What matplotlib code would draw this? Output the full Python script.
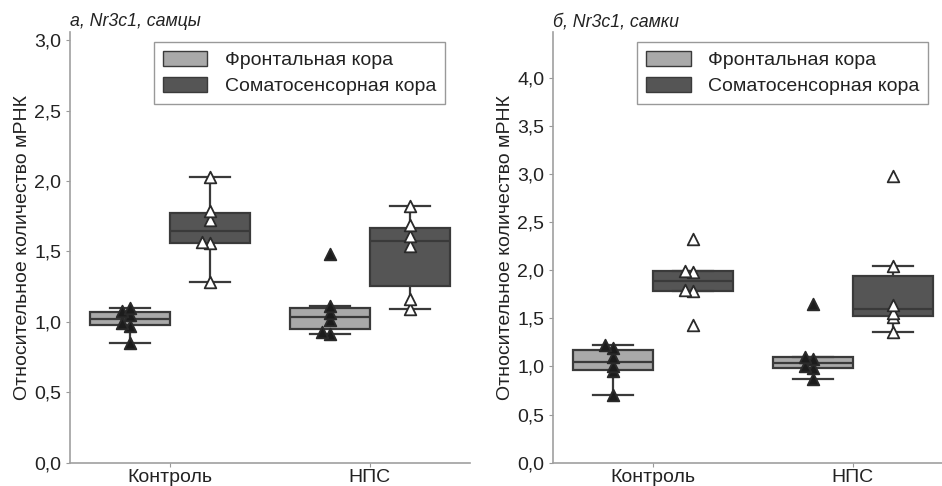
import matplotlib
matplotlib.use('Agg')
import matplotlib.pyplot as plt
from matplotlib.patches import Patch
from matplotlib.ticker import FuncFormatter
import pandas as pd
import seaborn as sns

plt.rcParams['font.family'] = ['Liberation Sans', 'DejaVu Sans']

groups = ['Контроль', 'НПС']
regions = ['Фронтальная кора', 'Соматосенсорная кора']

# а, самцы
m_ctrl_front = [0.85, 0.97, 0.99, 1.05, 1.08, 1.10]
m_ctrl_soma = [1.28, 1.56, 1.57, 1.72, 1.79, 2.03]
m_nps_front = [0.915, 0.93, 1.01, 1.06, 1.115, 1.48]
m_nps_soma = [1.09, 1.16, 1.54, 1.61, 1.685, 1.825]

# б, самки
f_ctrl_front = [0.70, 0.95, 1.00, 1.10, 1.19, 1.22]
f_ctrl_soma = [1.43, 1.78, 1.80, 1.98, 1.99, 2.33]
f_nps_front = [0.87, 0.98, 1.00, 1.08, 1.10, 1.65]
f_nps_soma = [1.36, 1.51, 1.56, 1.64, 2.04, 2.98]

light = '#a9a9a9'
dark = '#555555'
edge = '#3a3a3a'
txt = '#222222'
pt_face = ['#1c1c1c', 'white']

W, H = 942, 486
ax_h = 431


def make_df(ctrl_front, ctrl_soma, nps_front, nps_soma):
    rows = []
    for g, r, vals in [(groups[0], regions[0], ctrl_front),
                       (groups[0], regions[1], ctrl_soma),
                       (groups[1], regions[0], nps_front),
                       (groups[1], regions[1], nps_soma)]:
        for v in vals:
            rows.append((g, r, v))
    return pd.DataFrame(rows, columns=['group', 'region', 'value'])


def shifts(vals, ppy, thr=4.5, step=0.04):
    # points that would overlap an already placed one are pushed to the left
    placed = []
    out = []
    for v in sorted(vals):
        k = 0
        while any(pk == k and abs(v - pv) * ppy < thr for pv, pk in placed):
            k += 1
        placed.append((v, k))
        out.append((v, -k * step))
    return out


def draw(ax, df, title, ymax, ytop):
    sns.boxplot(data=df, x='group', y='value', hue='region', order=groups,
                hue_order=regions, palette=[light, dark], linecolor=edge,
                linewidth=1.6, showfliers=False, width=0.8, ax=ax, legend=False)
    ppy = ax_h / ytop
    for gi, g in enumerate(groups):
        for ri, r in enumerate(regions):
            vals = df[(df.group == g) & (df.region == r)].value.tolist()
            xs, ys = [], []
            for v, dx in shifts(vals, ppy):
                xs.append(gi - 0.2 + 0.4 * ri + dx)
                ys.append(v)
            ax.scatter(xs, ys, marker='^', s=70, facecolor=pt_face[ri],
                       edgecolor='#2a2a2a', linewidth=1.3, zorder=5)
    ax.set_xlim(-0.5, 1.5)
    ax.set_ylim(0, ytop)
    ax.set_yticks([i * 0.5 for i in range(int(ymax / 0.5) + 1)])
    ax.yaxis.set_major_formatter(FuncFormatter(lambda v, p: ('%.1f' % v).replace('.', ',')))
    ax.set_xlabel('')
    ax.set_ylabel('Относительное количество мРНК', fontsize=14, color=txt, labelpad=2)
    ax.tick_params(colors='#999999', labelcolor=txt, labelsize=14, length=3, width=0.8)
    ax.tick_params(axis='x', pad=1.5)
    ax.tick_params(axis='y', pad=3)
    for s in ['top', 'right']:
        ax.spines[s].set_visible(False)
    for s in ['left', 'bottom']:
        ax.spines[s].set_color('#a0a0a0')
        ax.spines[s].set_linewidth(1.2)
    ax.set_title(title, loc='left', fontstyle='italic', fontsize=12.8, color=txt, pad=4)
    handles = [Patch(facecolor=light, edgecolor=edge, linewidth=1, label=regions[0]),
               Patch(facecolor=dark, edgecolor=edge, linewidth=1, label=regions[1])]
    leg = ax.legend(handles=handles, loc='upper right', bbox_to_anchor=(0.939, 0.976),
                    borderaxespad=0, fontsize=14, fancybox=False, framealpha=1,
                    edgecolor='#999999', handlelength=2.3, handleheight=0.8,
                    labelspacing=0.4, borderpad=0.45, handletextpad=0.9)
    for t in leg.get_texts():
        t.set_color(txt)


fig = plt.figure(figsize=(W / 100, H / 100), dpi=100)
ax1 = fig.add_axes([69.5 / W, 23.3 / H, 400 / W, ax_h / H])
ax2 = fig.add_axes([552.7 / W, 23.3 / H, 400 / W, ax_h / H])

draw(ax1, make_df(m_ctrl_front, m_ctrl_soma, m_nps_front, m_nps_soma),
     'а, Nr3c1, самцы', 3.0, 3.06)
draw(ax2, make_df(f_ctrl_front, f_ctrl_soma, f_nps_front, f_nps_soma),
     'б, Nr3c1, самки', 4.0, 4.48)

fig.savefig('out.png', dpi=100)
